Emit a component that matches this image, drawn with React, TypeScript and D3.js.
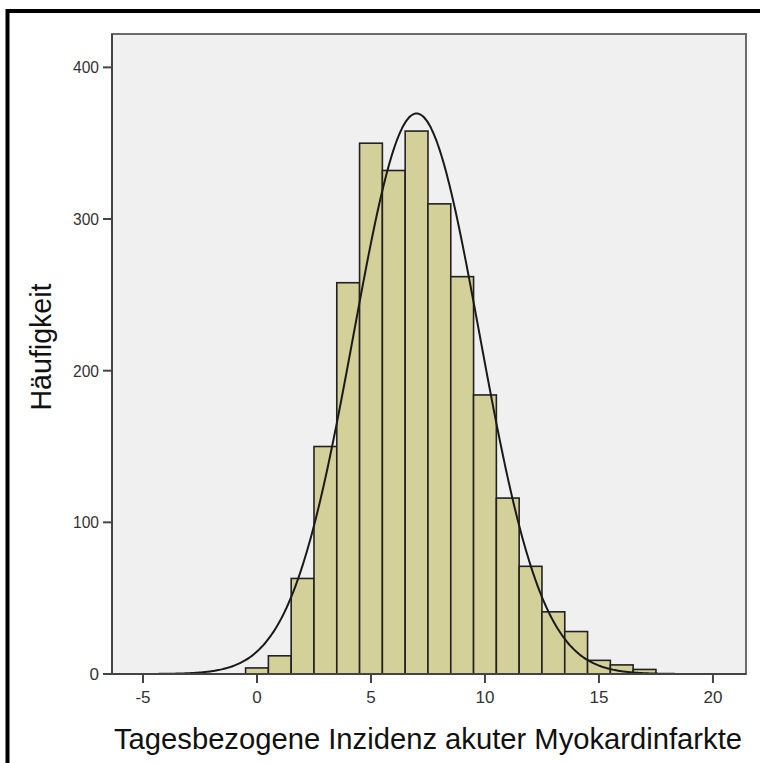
import React from "react";
import * as d3 from "d3";

const binCenters = [0, 1, 2, 3, 4, 5, 6, 7, 8, 9, 10, 11, 12, 13, 14, 15, 16, 17];
const counts = [4, 12, 63, 150, 258, 350, 332, 358, 310, 262, 184, 116, 71, 41, 28, 9, 6, 3];
const xTicks = [-5, 0, 5, 10, 15, 20];
const yTicks = [0, 100, 200, 300, 400];
const fitMean = 7.0;
const fitSd = 2.76;
const binWidth = 1;
const xTitle = "Tagesbezogene Inzidenz akuter Myokardinfarkte";
const yTitle = "Häufigkeit";

const W = 760;
const H = 763;
const left = 112;
const right = 746;
const top = 34;
const bottom = 674;

export default function App() {
  const x = d3.scaleLinear().domain([-6.36, 21.45]).range([left, right]);
  const y = d3.scaleLinear().domain([0, 422]).range([bottom, top]);
  const total = d3.sum(counts);
  const pdf = (v: number) =>
    (total * binWidth) / (fitSd * Math.sqrt(2 * Math.PI)) *
    Math.exp(-0.5 * ((v - fitMean) / fitSd) ** 2);
  const curvePts = d3.range(-5, 21.4, 0.05).map((v) => [v, pdf(v)] as [number, number]);
  const line = d3
    .line<[number, number]>()
    .x((d) => x(d[0]))
    .y((d) => y(d[1]))
    .curve(d3.curveBasis);
  const font = "Arial, 'Liberation Sans', sans-serif";

  return (
    <svg
      width={W}
      height={H}
      style={{ position: "absolute", left: 0, top: 0, background: "#fff" }}
    >
      <rect x={7.5} y={11} width={900} height={900} fill="#fff" stroke="#000" strokeWidth={4} />
      <rect x={left} y={top} width={right - left} height={bottom - top} fill="#f0f0f0" stroke="#6a6a6a" strokeWidth={2} />
      <defs>
        <clipPath id="plotclip">
          <rect x={left} y={top} width={right - left} height={bottom - top} />
        </clipPath>
      </defs>
      {binCenters.map((c, i) => (
        <rect
          key={i}
          x={x(c - binWidth / 2)}
          y={y(counts[i])}
          width={x(c + binWidth / 2) - x(c - binWidth / 2)}
          height={bottom - y(counts[i])}
          fill="#d4d09a"
          stroke="#222"
          strokeWidth={1.6}
        />
      ))}
      <path d={line(curvePts) || ""} fill="none" stroke="#1a1a1a" strokeWidth={2} clipPath="url(#plotclip)" />
      {/* axes */}
      <line x1={left} x2={left} y1={top} y2={bottom} stroke="#444" strokeWidth={2} />
      <line x1={left} x2={right} y1={bottom} y2={bottom} stroke="#444" strokeWidth={2} />
      {yTicks.map((t) => (
        <g key={"y" + t}>
          <line x1={left - 9} x2={left} y1={y(t)} y2={y(t)} stroke="#444" strokeWidth={2} />
          <text x={left - 13} y={y(t)} dy="0.36em" textAnchor="end" fontFamily={font} fontSize={17} fill="#333"
            textLength={t === 0 ? undefined : 26} lengthAdjust="spacingAndGlyphs">
            {t}
          </text>
        </g>
      ))}
      {xTicks.map((t) => (
        <g key={"x" + t}>
          <line x1={x(t)} x2={x(t)} y1={bottom} y2={bottom + 9} stroke="#444" strokeWidth={2} />
          <text x={x(t)} y={bottom + 29} textAnchor="middle" fontFamily={font} fontSize={17} fill="#333">
            {t}
          </text>
        </g>
      ))}
      <text x={114} y={749} fontFamily={font} fontSize={29} fill="#111" textLength={628} lengthAdjust="spacingAndGlyphs">
        {xTitle}
      </text>
      <text
        transform={`translate(51, 347) rotate(-90)`}
        textAnchor="middle"
        fontFamily={font}
        fontSize={29}
        fill="#111"
        textLength={127}
        lengthAdjust="spacingAndGlyphs"
      >
        {yTitle}
      </text>
    </svg>
  );
}
